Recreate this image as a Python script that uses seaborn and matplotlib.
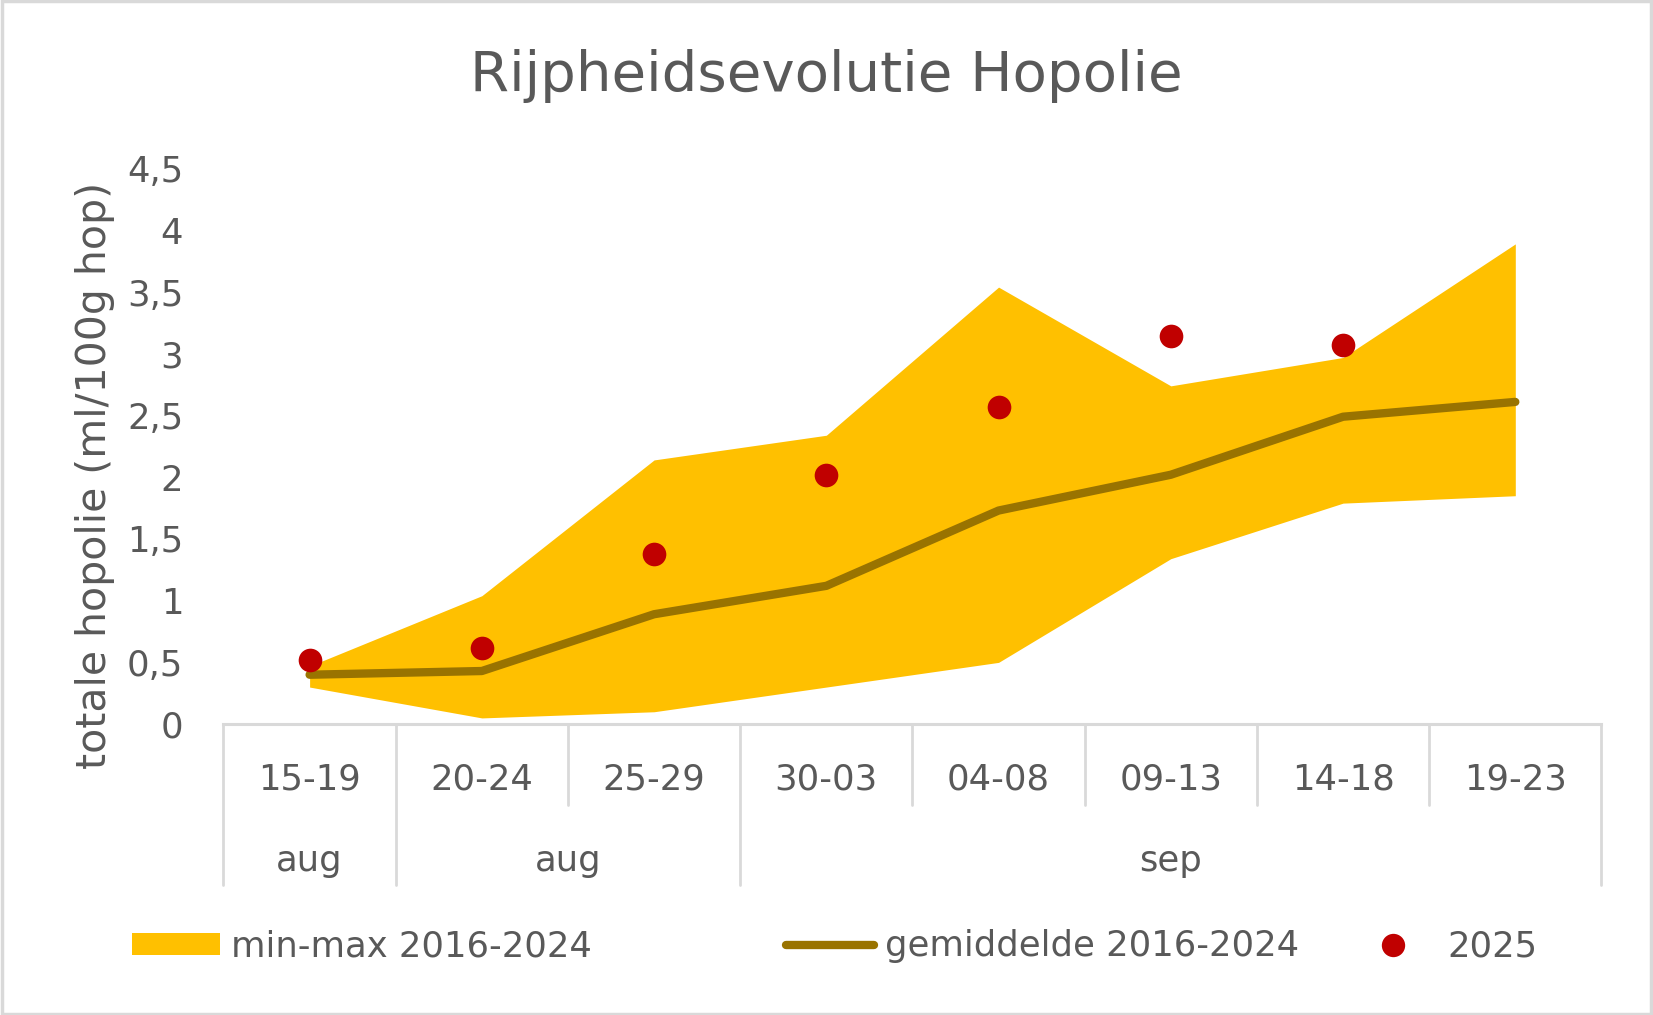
import numpy as np
import pandas as pd
import matplotlib
matplotlib.use("Agg")
import matplotlib.pyplot as plt
import matplotlib.transforms as mtransforms
from matplotlib.patches import Patch, Rectangle
from matplotlib.lines import Line2D
import seaborn as sns

# ---------------- data ----------------
periods = ["15-19", "20-24", "25-29", "30-03", "04-08", "09-13", "14-18", "19-23"]
months = ["aug", "aug", "sep"]
month_spans = [(0, 0), (1, 2), (3, 7)]
band_min = [0.30, 0.05, 0.10, 0.30, 0.50, 1.34, 1.79, 1.85]
band_max = [0.47, 1.04, 2.14, 2.34, 3.54, 2.74, 2.97, 3.89]
mean_2016_2024 = [0.40, 0.43, 0.89, 1.12, 1.73, 2.02, 2.49, 2.61]
values_2025 = [0.52, 0.62, 1.38, 2.02, 2.57, 3.14, 3.07, np.nan]
y_ticks = [0, 0.5, 1, 1.5, 2, 2.5, 3, 3.5, 4, 4.5]
y_tick_labels = ["0", "0,5", "1", "1,5", "2", "2,5", "3", "3,5", "4", "4,5"]
title = "Rijpheidsevolutie Hopolie"
y_label = "totale hopolie (ml/100g hop)"
legend_labels = ["min-max 2016-2024", "gemiddelde 2016-2024", "2025"]

# ---------------- style ----------------
sns.set_theme(style="white")
plt.rcParams["font.family"] = ["DejaVu Sans"]
TXT = "#595959"
GRID = "#D9D9D9"
C_BAND = "#FFC000"
C_MEAN = "#997300"
C_DOT = "#C00000"
LW_MEAN = 6.0

df = pd.DataFrame({
    "x": np.arange(len(periods)),
    "period": periods,
    "lo": band_min,
    "hi": band_max,
    "mean": mean_2016_2024,
    "y2025": values_2025,
})

fig = plt.figure(figsize=(16.53, 10.15), dpi=100)
ax = fig.add_axes([0.1352, 0.2866, 0.9688 - 0.1352, 0.8339 - 0.2866])

ax.fill_between(df["x"], df["lo"], df["hi"], color=C_BAND, linewidth=0, zorder=1)
sns.lineplot(data=df, x="x", y="mean", ax=ax, color=C_MEAN, linewidth=LW_MEAN,
             solid_capstyle="round", zorder=2, legend=False)
sns.scatterplot(data=df.dropna(subset=["y2025"]), x="x", y="y2025", ax=ax,
                color=C_DOT, s=290, linewidth=0, zorder=3, legend=False)

ax.set_xlim(-0.5, len(periods) - 0.5)
ax.set_ylim(0, 4.5)
ax.set_yticks(y_ticks)
ax.set_yticklabels(y_tick_labels)
ax.tick_params(axis="y", length=0, pad=29, labelsize=25.5, labelcolor=TXT)
ax.set_xticks([])
ax.set_xlabel("")
ax.set_ylabel(y_label, fontsize=29.5, color=TXT)
ax.yaxis.set_label_coords(-0.079, 0.447)

for s in ["top", "right", "left"]:
    ax.spines[s].set_visible(False)
ax.spines["bottom"].set_color(GRID)
ax.spines["bottom"].set_linewidth(2.2)

# category axis: two-level labels with separators
trans = mtransforms.blended_transform_factory(ax.transData, ax.transAxes)
row1 = -0.146
row2 = -0.290
long_seps = {-0.5, len(periods) - 0.5}
for a, b in month_spans:
    long_seps.add(a - 0.5)
    long_seps.add(b + 0.5)
for k in range(len(periods) + 1):
    xs = k - 0.5
    bottom = row2 if xs in long_seps else row1
    ax.add_line(Line2D([xs, xs], [0, bottom], transform=trans, color=GRID,
                       linewidth=2, clip_on=False))
for i, p in enumerate(periods):
    ax.text(i, -0.1006, p, transform=trans, ha="center", va="center",
            fontsize=25.5, color=TXT)
for m, (a, b) in zip(months, month_spans):
    ax.text((a + b) / 2, -0.247, m, transform=trans, ha="center", va="center",
            fontsize=25.5, color=TXT)

# title
fig.text(0.5, 0.925, title, ha="center", va="center", fontsize=40.5, color=TXT)

# legends (three separately positioned entries)
h_band = Patch(facecolor=C_BAND, edgecolor="none")
h_mean = Line2D([], [], color=C_MEAN, linewidth=LW_MEAN, solid_capstyle="round")
h_dot = Line2D([], [], color=C_DOT, marker="o", linestyle="none", markersize=16.8,
               markeredgewidth=0)
for h, lab, x0 in zip([h_band, h_mean, h_dot], legend_labels, [0.0797, 0.4752, 0.8157]):
    fig.legend([h], [lab], loc="center left", bbox_to_anchor=(x0, 0.0675),
               frameon=False, borderpad=0, borderaxespad=0, handlelength=2.5,
               handleheight=0.6, handletextpad=0.3, fontsize=25.5,
               labelcolor=TXT)

# chart border
fig.patches.append(Rectangle((0.001, 0.001), 0.998, 0.998, transform=fig.transFigure,
                             fill=False, edgecolor=GRID, linewidth=2.5))

fig.savefig("out.png", dpi=100, facecolor="white")
